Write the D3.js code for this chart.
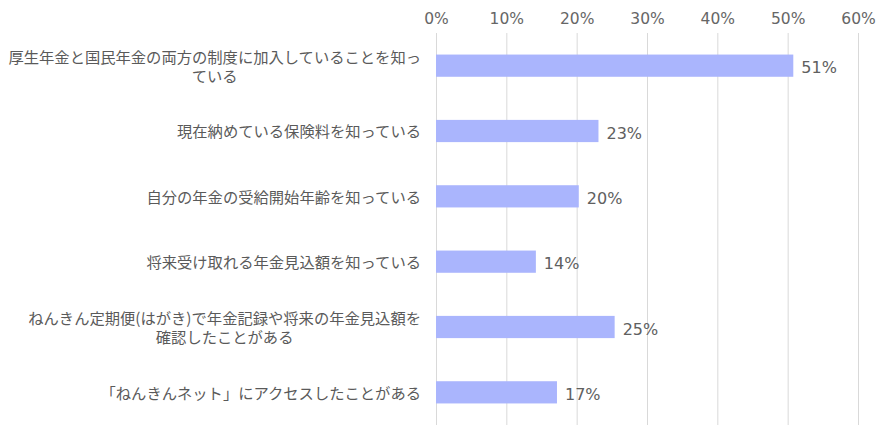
<!DOCTYPE html>
<html>
<head>
<meta charset="utf-8">
<script src="https://cdn.jsdelivr.net/npm/d3@7"></script>
<style>
  body { margin: 0; background: #fff; }
  svg { display: block; }
</style>
</head>
<body>
<div id="chart"></div>
<script>
// data
var categories = [
    "厚生年金と国民年金の両方の制度に加入していることを知っ\nている",
    "現在納めている保険料を知っている",
    "自分の年金の受給開始年齢を知っている",
    "将来受け取れる年金見込額を知っている",
    "ねんきん定期便(はがき)で年金記録や将来の年金見込額を\n確認したことがある",
    "「ねんきんネット」にアクセスしたことがある"
];
var values = [50.8, 23.1, 20.3, 14.2, 25.4, 17.2];
var tickValues = [0, 10, 20, 30, 40, 50, 60];

var svgWidth = 893, svgHeight = 441;
var margin = { top: 33, right: 35, bottom: 16, left: 436 };
var width = svgWidth - margin.left - margin.right;
var height = svgHeight - margin.top - margin.bottom;
var textColor = "#5a5a5a";
var jpFont = "'Noto Sans CJK JP', sans-serif";
var numFont = "'DejaVu Sans', sans-serif";

var svg = d3.select("#chart").append("svg")
    .attr("width", svgWidth)
    .attr("height", svgHeight)
    .append("g")
    .attr("transform", "translate(" + margin.left + "," + margin.top + ")");

var x = d3.scaleLinear()
    .domain([0, 60])
    .range([0, width]);

var y = d3.scaleBand()
    .domain(categories)
    .range([0, height])
    .paddingInner(0.66)
    .paddingOuter(0.33);

// top axis with gridlines
var xAxis = svg.append("g")
    .call(d3.axisTop(x)
        .tickValues(tickValues)
        .tickFormat(function(d) { return d + "%"; })
        .tickSizeInner(-height)
        .tickSizeOuter(0)
        .tickPadding(9));

xAxis.select(".domain").remove();
xAxis.selectAll(".tick line")
    .attr("stroke", "#d9d9d9")
    .attr("stroke-width", 1);
xAxis.selectAll(".tick text")
    .attr("fill", "#666")
    .style("font-family", numFont)
    .style("font-size", "15.5px");

// bars
svg.selectAll(".bar")
    .data(values)
    .enter().append("rect")
    .attr("class", "bar")
    .attr("x", x(0))
    .attr("y", function(d, i) { return y(categories[i]); })
    .attr("width", function(d) { return x(d) - x(0); })
    .attr("height", y.bandwidth())
    .attr("fill", "#aab5fd");

// value labels
svg.selectAll(".val")
    .data(values)
    .enter().append("text")
    .attr("class", "val")
    .attr("x", function(d) { return x(d) + 8; })
    .attr("y", function(d, i) { return y(categories[i]) + y.bandwidth() / 2 + 2; })
    .attr("dy", "0.35em")
    .attr("fill", "#606060")
    .style("font-family", numFont)
    .style("font-size", "16px")
    .text(function(d) { return Math.round(d) + "%"; });

// category labels (right aligned, extra lines centred under the first)
var lineHeight = 19;
categories.forEach(function(c, i) {
    var lines = c.split("\n");
    var cy = y(c) + y.bandwidth() / 2 + 1;
    var t = svg.append("text")
        .attr("fill", textColor)
        .style("font-family", jpFont)
        .style("font-size", "15.3px");
    var first = t.append("tspan")
        .attr("x", -15)
        .attr("y", cy - (lines.length - 1) * lineHeight / 2)
        .attr("dy", "0.35em")
        .attr("text-anchor", "end")
        .text(lines[0]);
    if (lines.length > 1) {
        var w = first.node().getComputedTextLength();
        t.append("tspan")
            .attr("x", -15 - w / 2)
            .attr("y", cy + (lines.length - 1) * lineHeight / 2)
            .attr("dy", "0.35em")
            .attr("text-anchor", "middle")
            .text(lines[1]);
    }
});
</script>
</body>
</html>
